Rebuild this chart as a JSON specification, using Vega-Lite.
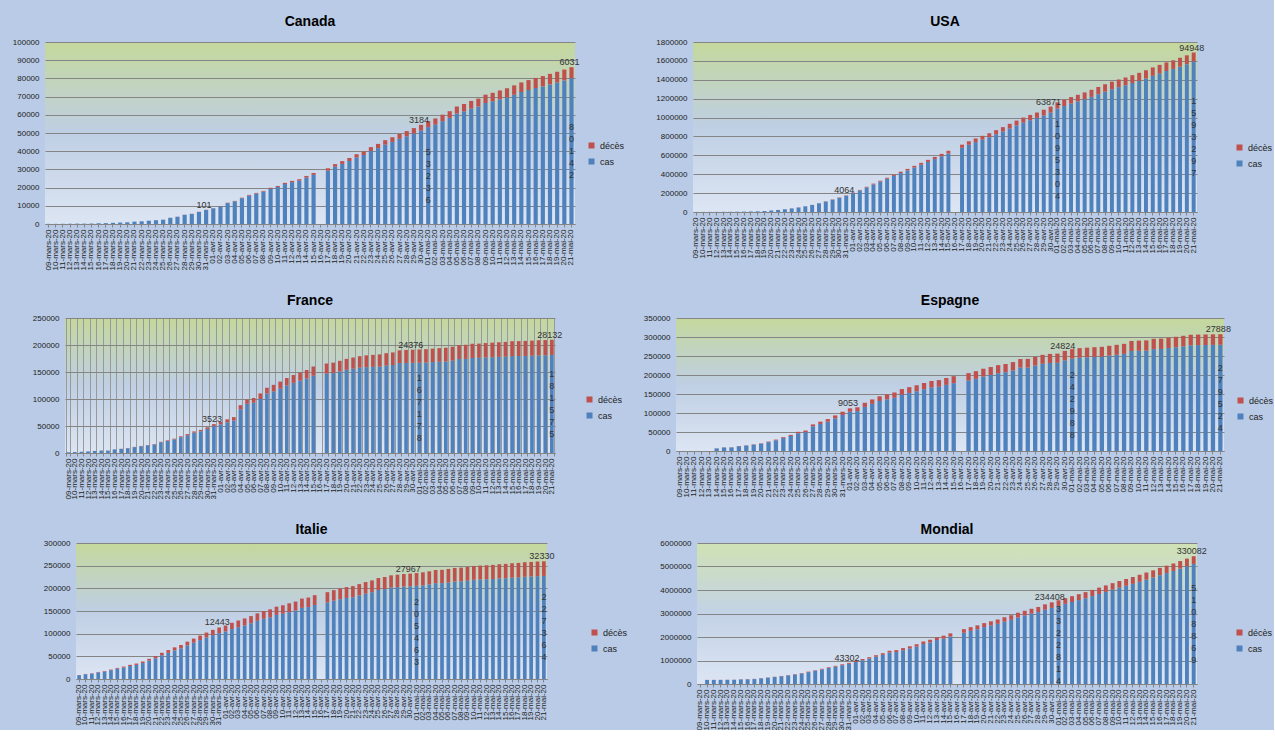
{
"$schema": "https://vega.github.io/schema/vega-lite/v6.json",
"background": "#b9cbe6",
"padding": {"left": 0, "top": 15, "right": 0, "bottom": 0},
"config": {
  "font": "Liberation Sans",
  "view": {"stroke": null},
  "title": {"fontSize": 14, "fontWeight": "bold", "color": "#000000", "anchor": "middle", "font": "Liberation Sans"},
  "axisY": {"domain": false, "ticks": false, "labelPadding": 6, "labelFontSize": 8, "labelColor": "#222222", "gridColor": "#858585", "gridOpacity": 1, "format": "d", "title": null},
  "axisX": {"labelAngle": -90, "labelFontSize": 8, "labelColor": "#222222", "domainColor": "#858585", "ticks": true, "tickColor": "#858585", "tickSize": 3, "labelPadding": 2, "labelOverlap": false, "labelFlush": false, "grid": false, "title": null},
  "legend": {"symbolType": "square", "symbolSize": 36, "symbolStrokeWidth": 0, "labelFontSize": 9, "labelColor": "#222222", "rowPadding": 6, "padding": 0, "labelOffset": 4},
  "bar": {"fillOpacity": 1}
},
"datasets": {
"Canada": [{"d":"09-mars-20","cas":77,"décès":1},{"d":"10-mars-20","cas":79,"décès":1},{"d":"11-mars-20","cas":108,"décès":1},{"d":"12-mars-20","cas":117,"décès":1},{"d":"13-mars-20","cas":193,"décès":1},{"d":"14-mars-20","cas":198,"décès":1},{"d":"15-mars-20","cas":252,"décès":1},{"d":"16-mars-20","cas":415,"décès":4},{"d":"17-mars-20","cas":478,"décès":5},{"d":"18-mars-20","cas":657,"décès":8},{"d":"19-mars-20","cas":800,"décès":9},{"d":"20-mars-20","cas":943,"décès":12},{"d":"21-mars-20","cas":1277,"décès":19},{"d":"22-mars-20","cas":1469,"décès":21},{"d":"23-mars-20","cas":1780,"décès":25},{"d":"24-mars-20","cas":2088,"décès":26},{"d":"25-mars-20","cas":2370,"décès":30},{"d":"26-mars-20","cas":3400,"décès":38},{"d":"27-mars-20","cas":3960,"décès":54},{"d":"28-mars-20","cas":5050,"décès":61},{"d":"29-mars-20","cas":5550,"décès":64},{"d":"30-mars-20","cas":6620,"décès":80},{"d":"31-mars-20","cas":7700,"décès":101},{"d":"01-avr-20","cas":8600,"décès":109},{"d":"02-avr-20","cas":9660,"décès":139},{"d":"03-avr-20","cas":11500,"décès":179},{"d":"04-avr-20","cas":12480,"décès":218},{"d":"05-avr-20","cas":14180,"décès":259},{"d":"06-avr-20","cas":15660,"décès":339},{"d":"07-avr-20","cas":16720,"décès":375},{"d":"08-avr-20","cas":17790,"décès":407},{"d":"09-avr-20","cas":19400,"décès":503},{"d":"10-avr-20","cas":20340,"décès":557},{"d":"11-avr-20","cas":21950,"décès":654},{"d":"12-avr-20","cas":22990,"décès":714},{"d":"13-avr-20","cas":23820,"décès":781},{"d":"14-avr-20","cas":25500,"décès":901},{"d":"15-avr-20","cas":27000,"décès":1010},{"d":"16-avr-20","cas":null,"décès":null},{"d":"17-avr-20","cas":29300,"décès":1310},{"d":"18-avr-20","cas":31500,"décès":1399},{"d":"19-avr-20","cas":33000,"décès":1563},{"d":"20-avr-20","cas":34600,"décès":1661},{"d":"21-avr-20","cas":36500,"décès":1834},{"d":"22-avr-20","cas":37900,"décès":1974},{"d":"23-avr-20","cas":40100,"décès":2147},{"d":"24-avr-20","cas":41700,"décès":2302},{"d":"25-avr-20","cas":43600,"décès":2465},{"d":"26-avr-20","cas":45100,"décès":2560},{"d":"27-avr-20","cas":46800,"décès":2707},{"d":"28-avr-20","cas":48200,"décès":2859},{"d":"29-avr-20","cas":49700,"décès":2996},{"d":"30-avr-20","cas":51300,"décès":3184},{"d":"01-mai-20","cas":53236,"décès":3310},{"d":"02-mai-20","cas":54600,"décès":3391},{"d":"03-mai-20","cas":56500,"décès":3566},{"d":"04-mai-20","cas":58300,"décès":3682},{"d":"05-mai-20","cas":60700,"décès":3854},{"d":"06-mai-20","cas":61900,"décès":4043},{"d":"07-mai-20","cas":63400,"décès":4232},{"d":"08-mai-20","cas":64500,"décès":4409},{"d":"09-mai-20","cas":66500,"décès":4569},{"d":"10-mai-20","cas":67400,"décès":4691},{"d":"11-mai-20","cas":68500,"décès":4871},{"d":"12-mai-20","cas":69600,"décès":4992},{"d":"13-mai-20","cas":71000,"décès":5169},{"d":"14-mai-20","cas":72500,"décès":5303},{"d":"15-mai-20","cas":73600,"décès":5472},{"d":"16-mai-20","cas":74700,"décès":5562},{"d":"17-mai-20","cas":75600,"décès":5679},{"d":"18-mai-20","cas":76700,"décès":5800},{"d":"19-mai-20","cas":77800,"décès":5902},{"d":"20-mai-20","cas":78900,"décès":5960},{"d":"21-mai-20","cas":80142,"décès":6031}],
"USA": [{"d":"09-mars-20","cas":600,"décès":22},{"d":"10-mars-20","cas":780,"décès":28},{"d":"11-mars-20","cas":1100,"décès":36},{"d":"12-mars-20","cas":1450,"décès":40},{"d":"13-mars-20","cas":1900,"décès":47},{"d":"14-mars-20","cas":2400,"décès":54},{"d":"15-mars-20","cas":3000,"décès":63},{"d":"16-mars-20","cas":4000,"décès":85},{"d":"17-mars-20","cas":5500,"décès":108},{"d":"18-mars-20","cas":7000,"décès":118},{"d":"19-mars-20","cas":10500,"décès":200},{"d":"20-mars-20","cas":16000,"décès":244},{"d":"21-mars-20","cas":22000,"décès":307},{"d":"22-mars-20","cas":29000,"décès":427},{"d":"23-mars-20","cas":38000,"décès":552},{"d":"24-mars-20","cas":48000,"décès":706},{"d":"25-mars-20","cas":60000,"décès":942},{"d":"26-mars-20","cas":74000,"décès":1209},{"d":"27-mars-20","cas":92000,"décès":1581},{"d":"28-mars-20","cas":111000,"décès":2026},{"d":"29-mars-20","cas":131000,"décès":2467},{"d":"30-mars-20","cas":151000,"décès":2978},{"d":"31-mars-20","cas":172000,"décès":4064},{"d":"01-avr-20","cas":200000,"décès":5110},{"d":"02-avr-20","cas":228000,"décès":6095},{"d":"03-avr-20","cas":260000,"décès":7101},{"d":"04-avr-20","cas":292000,"décès":8437},{"d":"05-avr-20","cas":322000,"décès":9620},{"d":"06-avr-20","cas":352000,"décès":10783},{"d":"07-avr-20","cas":382000,"décès":12722},{"d":"08-avr-20","cas":412000,"décès":14695},{"d":"09-avr-20","cas":440000,"décès":16478},{"d":"10-avr-20","cas":470000,"décès":18586},{"d":"11-avr-20","cas":500000,"décès":20463},{"d":"12-avr-20","cas":530000,"décès":22020},{"d":"13-avr-20","cas":560000,"décès":23529},{"d":"14-avr-20","cas":590000,"décès":25831},{"d":"15-avr-20","cas":620000,"décès":28325},{"d":"16-avr-20","cas":null,"décès":null},{"d":"17-avr-20","cas":680000,"décès":32916},{"d":"18-avr-20","cas":712000,"décès":36773},{"d":"19-avr-20","cas":740000,"décès":38664},{"d":"20-avr-20","cas":766000,"décès":40661},{"d":"21-avr-20","cas":792000,"décès":42094},{"d":"22-avr-20","cas":822000,"décès":44845},{"d":"23-avr-20","cas":852000,"décès":46622},{"d":"24-avr-20","cas":884000,"décès":49954},{"d":"25-avr-20","cas":916000,"décès":51949},{"d":"26-avr-20","cas":946000,"décès":53755},{"d":"27-avr-20","cas":972000,"décès":55400},{"d":"28-avr-20","cas":996000,"décès":57300},{"d":"29-avr-20","cas":1022000,"décès":60500},{"d":"30-avr-20","cas":1052000,"décès":63871},{"d":"01-mai-20","cas":1095304,"décès":65800},{"d":"02-mai-20","cas":1122000,"décès":67500},{"d":"03-mai-20","cas":1148000,"décès":68900},{"d":"04-mai-20","cas":1171000,"décès":70100},{"d":"05-mai-20","cas":1194000,"décès":72400},{"d":"06-mai-20","cas":1219000,"décès":74900},{"d":"07-mai-20","cas":1247000,"décès":77000},{"d":"08-mai-20","cas":1274000,"décès":78700},{"d":"09-mai-20","cas":1300000,"décès":80200},{"d":"10-mai-20","cas":1322000,"décès":81200},{"d":"11-mai-20","cas":1342000,"décès":82200},{"d":"12-mai-20","cas":1365000,"décès":83900},{"d":"13-mai-20","cas":1388000,"décès":85500},{"d":"14-mai-20","cas":1414000,"décès":87200},{"d":"15-mai-20","cas":1442000,"décès":88700},{"d":"16-mai-20","cas":1468000,"décès":89900},{"d":"17-mai-20","cas":1493000,"décès":90700},{"d":"18-mai-20","cas":1515000,"décès":91600},{"d":"19-mai-20","cas":1540000,"décès":93100},{"d":"20-mai-20","cas":1565000,"décès":94100},{"d":"21-mai-20","cas":1593297,"décès":94948}],
"France": [{"d":"09-mars-20","cas":1400,"décès":30},{"d":"10-mars-20","cas":1800,"décès":33},{"d":"11-mars-20","cas":2300,"décès":48},{"d":"12-mars-20","cas":2900,"décès":61},{"d":"13-mars-20","cas":3700,"décès":79},{"d":"14-mars-20","cas":4500,"décès":91},{"d":"15-mars-20","cas":4500,"décès":91},{"d":"16-mars-20","cas":6600,"décès":148},{"d":"17-mars-20","cas":7700,"décès":148},{"d":"18-mars-20","cas":9000,"décès":244},{"d":"19-mars-20","cas":10900,"décès":372},{"d":"20-mars-20","cas":12600,"décès":450},{"d":"21-mars-20","cas":14300,"décès":562},{"d":"22-mars-20","cas":16000,"décès":674},{"d":"23-mars-20","cas":19900,"décès":860},{"d":"24-mars-20","cas":22300,"décès":1100},{"d":"25-mars-20","cas":25200,"décès":1331},{"d":"26-mars-20","cas":29200,"décès":1696},{"d":"27-mars-20","cas":33000,"décès":1995},{"d":"28-mars-20","cas":37600,"décès":2314},{"d":"29-mars-20","cas":40200,"décès":2606},{"d":"30-mars-20","cas":44600,"décès":3024},{"d":"31-mars-20","cas":50000,"décès":3523},{"d":"01-avr-20","cas":53000,"décès":4403},{"d":"02-avr-20","cas":57000,"décès":5387},{"d":"03-avr-20","cas":60000,"décès":6507},{"d":"04-avr-20","cas":81000,"décès":7560},{"d":"05-avr-20","cas":91000,"décès":8078},{"d":"06-avr-20","cas":93000,"décès":8911},{"d":"07-avr-20","cas":100000,"décès":10328},{"d":"08-avr-20","cas":110000,"décès":10869},{"d":"09-avr-20","cas":114000,"décès":12210},{"d":"10-avr-20","cas":119000,"décès":13197},{"d":"11-avr-20","cas":125000,"décès":13832},{"d":"12-avr-20","cas":130000,"décès":14393},{"d":"13-avr-20","cas":134000,"décès":14967},{"d":"14-avr-20","cas":138000,"décès":15729},{"d":"15-avr-20","cas":143000,"décès":17167},{"d":"16-avr-20","cas":null,"décès":null},{"d":"17-avr-20","cas":147000,"décès":18681},{"d":"18-avr-20","cas":148000,"décès":19323},{"d":"19-avr-20","cas":151000,"décès":19718},{"d":"20-avr-20","cas":154000,"décès":20265},{"d":"21-avr-20","cas":156000,"décès":20796},{"d":"22-avr-20","cas":158000,"décès":21340},{"d":"23-avr-20","cas":159000,"décès":21856},{"d":"24-avr-20","cas":159500,"décès":22245},{"d":"25-avr-20","cas":160000,"décès":22614},{"d":"26-avr-20","cas":162000,"décès":22856},{"d":"27-avr-20","cas":163000,"décès":23293},{"d":"28-avr-20","cas":166500,"décès":23660},{"d":"29-avr-20","cas":166800,"décès":24087},{"d":"30-avr-20","cas":167000,"décès":24376},{"d":"01-mai-20","cas":167178,"décès":24594},{"d":"02-mai-20","cas":167500,"décès":24760},{"d":"03-mai-20","cas":168400,"décès":24895},{"d":"04-mai-20","cas":169000,"décès":25201},{"d":"05-mai-20","cas":169500,"décès":25531},{"d":"06-mai-20","cas":171000,"décès":25809},{"d":"07-mai-20","cas":174000,"décès":25987},{"d":"08-mai-20","cas":174200,"décès":26230},{"d":"09-mai-20","cas":176000,"décès":26310},{"d":"10-mai-20","cas":176200,"décès":26380},{"d":"11-mai-20","cas":177000,"décès":26643},{"d":"12-mai-20","cas":177400,"décès":26991},{"d":"13-mai-20","cas":178000,"décès":27074},{"d":"14-mai-20","cas":178300,"décès":27425},{"d":"15-mai-20","cas":179500,"décès":27529},{"d":"16-mai-20","cas":179600,"décès":27625},{"d":"17-mai-20","cas":179800,"décès":27778},{"d":"18-mai-20","cas":180100,"décès":28022},{"d":"19-mai-20","cas":180800,"décès":28025},{"d":"20-mai-20","cas":181000,"décès":28111},{"d":"21-mai-20","cas":181575,"décès":28132}],
"Espagne": [{"d":"09-mars-20","cas":null,"décès":null},{"d":"10-mars-20","cas":null,"décès":null},{"d":"11-mars-20","cas":null,"décès":null},{"d":"12-mars-20","cas":null,"décès":null},{"d":"13-mars-20","cas":null,"décès":null},{"d":"14-mars-20","cas":6900,"décès":195},{"d":"15-mars-20","cas":9400,"décès":289},{"d":"16-mars-20","cas":9500,"décès":342},{"d":"17-mars-20","cas":12700,"décès":533},{"d":"18-mars-20","cas":14400,"décès":623},{"d":"19-mars-20","cas":16900,"décès":830},{"d":"20-mars-20","cas":19300,"décès":1043},{"d":"21-mars-20","cas":23400,"décès":1375},{"d":"22-mars-20","cas":28200,"décès":1772},{"d":"23-mars-20","cas":34000,"décès":2311},{"d":"24-mars-20","cas":39600,"décès":2808},{"d":"25-mars-20","cas":46800,"décès":3647},{"d":"26-mars-20","cas":49600,"décès":4365},{"d":"27-mars-20","cas":64900,"décès":5138},{"d":"28-mars-20","cas":71200,"décès":5982},{"d":"29-mars-20","cas":77200,"décès":6803},{"d":"30-mars-20","cas":86000,"décès":7716},{"d":"31-mars-20","cas":94900,"décès":8464},{"d":"01-avr-20","cas":103200,"décès":9053},{"d":"02-avr-20","cas":105000,"décès":10003},{"d":"03-avr-20","cas":116000,"décès":10935},{"d":"04-avr-20","cas":124000,"décès":11744},{"d":"05-avr-20","cas":131600,"décès":12418},{"d":"06-avr-20","cas":136000,"décès":13055},{"d":"07-avr-20","cas":140200,"décès":13798},{"d":"08-avr-20","cas":148400,"décès":14555},{"d":"09-avr-20","cas":152800,"décès":15238},{"d":"10-avr-20","cas":157200,"décès":15843},{"d":"11-avr-20","cas":162600,"décès":16353},{"d":"12-avr-20","cas":167000,"décès":16972},{"d":"13-avr-20","cas":169100,"décès":17489},{"d":"14-avr-20","cas":174000,"décès":18056},{"d":"15-avr-20","cas":178400,"décès":18579},{"d":"16-avr-20","cas":null,"décès":null},{"d":"17-avr-20","cas":185500,"décès":19478},{"d":"18-avr-20","cas":190000,"décès":20043},{"d":"19-avr-20","cas":196100,"décès":20453},{"d":"20-avr-20","cas":200100,"décès":20852},{"d":"21-avr-20","cas":204700,"décès":21282},{"d":"22-avr-20","cas":207300,"décès":21717},{"d":"23-avr-20","cas":211800,"décès":22157},{"d":"24-avr-20","cas":219500,"décès":22524},{"d":"25-avr-20","cas":219600,"décès":22902},{"d":"26-avr-20","cas":224800,"décès":23190},{"d":"27-avr-20","cas":229500,"décès":23521},{"d":"28-avr-20","cas":231700,"décès":23822},{"d":"29-avr-20","cas":232000,"décès":24275},{"d":"30-avr-20","cas":238700,"décès":24824},{"d":"01-mai-20","cas":242988,"décès":25100},{"d":"02-mai-20","cas":245500,"décès":25264},{"d":"03-mai-20","cas":246500,"décès":25428},{"d":"04-mai-20","cas":247500,"décès":25613},{"d":"05-mai-20","cas":248300,"décès":25857},{"d":"06-mai-20","cas":250800,"décès":26070},{"d":"07-mai-20","cas":253100,"décès":26299},{"d":"08-mai-20","cas":255500,"décès":26478},{"d":"09-mai-20","cas":263000,"décès":26621},{"d":"10-mai-20","cas":263800,"décès":26744},{"d":"11-mai-20","cas":264200,"décès":26920},{"d":"12-mai-20","cas":268100,"décès":27104},{"d":"13-mai-20","cas":268500,"décès":27321},{"d":"14-mai-20","cas":271000,"décès":27459},{"d":"15-mai-20","cas":273000,"décès":27563},{"d":"16-mai-20","cas":275500,"décès":27650},{"d":"17-mai-20","cas":278200,"décès":27709},{"d":"18-mai-20","cas":278600,"décès":27778},{"d":"19-mai-20","cas":278900,"décès":27840},{"d":"20-mai-20","cas":279200,"décès":27870},{"d":"21-mai-20","cas":279524,"décès":27888}],
"Italie": [{"d":"09-mars-20","cas":8400,"décès":463},{"d":"10-mars-20","cas":10500,"décès":631},{"d":"11-mars-20","cas":11800,"décès":827},{"d":"12-mars-20","cas":14700,"décès":827},{"d":"13-mars-20","cas":16500,"décès":1266},{"d":"14-mars-20","cas":19400,"décès":1441},{"d":"15-mars-20","cas":22700,"décès":1809},{"d":"16-mars-20","cas":25300,"décès":2158},{"d":"17-mars-20","cas":28700,"décès":2503},{"d":"18-mars-20","cas":31100,"décès":2978},{"d":"19-mars-20","cas":35200,"décès":3405},{"d":"20-mars-20","cas":40500,"décès":4032},{"d":"21-mars-20","cas":45700,"décès":4825},{"d":"22-mars-20","cas":52400,"décès":5476},{"d":"23-mars-20","cas":57700,"décès":6077},{"d":"24-mars-20","cas":63000,"décès":6820},{"d":"25-mars-20","cas":67500,"décès":7503},{"d":"26-mars-20","cas":74200,"décès":8165},{"d":"27-mars-20","cas":80000,"décès":9134},{"d":"28-mars-20","cas":85800,"décès":10023},{"d":"29-mars-20","cas":91600,"décès":10779},{"d":"30-mars-20","cas":96800,"décès":11591},{"d":"31-mars-20","cas":101200,"décès":12443},{"d":"01-avr-20","cas":104800,"décès":13155},{"d":"02-avr-20","cas":110100,"décès":13915},{"d":"03-avr-20","cas":114300,"décès":14681},{"d":"04-avr-20","cas":118200,"décès":15362},{"d":"05-avr-20","cas":122900,"décès":15887},{"d":"06-avr-20","cas":128300,"décès":16523},{"d":"07-avr-20","cas":132900,"décès":17127},{"d":"08-avr-20","cas":136000,"décès":17669},{"d":"09-avr-20","cas":141300,"décès":18279},{"d":"10-avr-20","cas":143800,"décès":18849},{"d":"11-avr-20","cas":147500,"décès":19468},{"d":"12-avr-20","cas":150900,"décès":19899},{"d":"13-avr-20","cas":156900,"décès":20465},{"d":"14-avr-20","cas":158600,"décès":21067},{"d":"15-avr-20","cas":163300,"décès":21645},{"d":"16-avr-20","cas":null,"décès":null},{"d":"17-avr-20","cas":168800,"décès":22745},{"d":"18-avr-20","cas":172800,"décès":23227},{"d":"19-avr-20","cas":176000,"décès":23660},{"d":"20-avr-20","cas":178600,"décès":24114},{"d":"21-avr-20","cas":180300,"décès":24648},{"d":"22-avr-20","cas":184300,"décès":25085},{"d":"23-avr-20","cas":188300,"décès":25549},{"d":"24-avr-20","cas":191500,"décès":25969},{"d":"25-avr-20","cas":196300,"décès":26384},{"d":"26-avr-20","cas":198400,"décès":26644},{"d":"27-avr-20","cas":201700,"décès":26977},{"d":"28-avr-20","cas":202700,"décès":27359},{"d":"29-avr-20","cas":203900,"décès":27682},{"d":"30-avr-20","cas":204500,"décès":27967},{"d":"01-mai-20","cas":205463,"décès":28236},{"d":"02-mai-20","cas":206600,"décès":28710},{"d":"03-mai-20","cas":208700,"décès":28884},{"d":"04-mai-20","cas":211400,"décès":29079},{"d":"05-mai-20","cas":211500,"décès":29315},{"d":"06-mai-20","cas":213100,"décès":29684},{"d":"07-mai-20","cas":215000,"décès":29958},{"d":"08-mai-20","cas":215500,"décès":30201},{"d":"09-mai-20","cas":216800,"décès":30395},{"d":"10-mai-20","cas":218800,"décès":30560},{"d":"11-mai-20","cas":219500,"décès":30739},{"d":"12-mai-20","cas":220000,"décès":30911},{"d":"13-mai-20","cas":220600,"décès":31106},{"d":"14-mai-20","cas":221800,"décès":31368},{"d":"15-mai-20","cas":222300,"décès":31610},{"d":"16-mai-20","cas":223600,"décès":31763},{"d":"17-mai-20","cas":224200,"décès":31908},{"d":"18-mai-20","cas":225600,"décès":32007},{"d":"19-mai-20","cas":226100,"décès":32169},{"d":"20-mai-20","cas":226900,"décès":32250},{"d":"21-mai-20","cas":227364,"décès":32330}],
"Mondial": [{"d":"09-mars-20","cas":null,"décès":null},{"d":"10-mars-20","cas":170000,"décès":4300},{"d":"11-mars-20","cas":172000,"décès":4600},{"d":"12-mars-20","cas":174000,"décès":4700},{"d":"13-mars-20","cas":176000,"décès":5400},{"d":"14-mars-20","cas":178000,"décès":5800},{"d":"15-mars-20","cas":196000,"décès":6500},{"d":"16-mars-20","cas":200000,"décès":7200},{"d":"17-mars-20","cas":210000,"décès":7900},{"d":"18-mars-20","cas":240000,"décès":8800},{"d":"19-mars-20","cas":268000,"décès":9900},{"d":"20-mars-20","cas":296000,"décès":11400},{"d":"21-mars-20","cas":330000,"décès":13100},{"d":"22-mars-20","cas":364000,"décès":14600},{"d":"23-mars-20","cas":405000,"décès":16500},{"d":"24-mars-20","cas":448000,"décès":18600},{"d":"25-mars-20","cas":505000,"décès":21200},{"d":"26-mars-20","cas":560000,"décès":23900},{"d":"27-mars-20","cas":620000,"décès":27200},{"d":"28-mars-20","cas":680000,"décès":30700},{"d":"29-mars-20","cas":740000,"décès":33900},{"d":"30-mars-20","cas":800000,"décès":37600},{"d":"31-mars-20","cas":857000,"décès":43302},{"d":"01-avr-20","cas":940000,"décès":47200},{"d":"02-avr-20","cas":1010000,"décès":53200},{"d":"03-avr-20","cas":1080000,"décès":58800},{"d":"04-avr-20","cas":1160000,"décès":64600},{"d":"05-avr-20","cas":1240000,"décès":69400},{"d":"06-avr-20","cas":1340000,"décès":74600},{"d":"07-avr-20","cas":1360000,"décès":81900},{"d":"08-avr-20","cas":1440000,"décès":88300},{"d":"09-avr-20","cas":1510000,"décès":95500},{"d":"10-avr-20","cas":1590000,"décès":102500},{"d":"11-avr-20","cas":1700000,"décès":108500},{"d":"12-avr-20","cas":1770000,"décès":114100},{"d":"13-avr-20","cas":1870000,"décès":119500},{"d":"14-avr-20","cas":1930000,"décès":125900},{"d":"15-avr-20","cas":2020000,"décès":134100},{"d":"16-avr-20","cas":null,"décès":null},{"d":"17-avr-20","cas":2180000,"décès":153800},{"d":"18-avr-20","cas":2260000,"décès":159500},{"d":"19-avr-20","cas":2330000,"décès":165000},{"d":"20-avr-20","cas":2420000,"décès":170400},{"d":"21-avr-20","cas":2490000,"décès":177600},{"d":"22-avr-20","cas":2560000,"décès":184000},{"d":"23-avr-20","cas":2650000,"décès":190600},{"d":"24-avr-20","cas":2730000,"décès":197200},{"d":"25-avr-20","cas":2830000,"décès":202800},{"d":"26-avr-20","cas":2910000,"décès":206500},{"d":"27-avr-20","cas":2990000,"décès":211200},{"d":"28-avr-20","cas":3060000,"décès":217800},{"d":"29-avr-20","cas":3160000,"décès":228000},{"d":"30-avr-20","cas":3240000,"décès":234408},{"d":"01-mai-20","cas":3322814,"décès":239600},{"d":"02-mai-20","cas":3410000,"décès":244700},{"d":"03-mai-20","cas":3490000,"décès":248400},{"d":"04-mai-20","cas":3570000,"décès":252400},{"d":"05-mai-20","cas":3650000,"décès":258300},{"d":"06-mai-20","cas":3740000,"décès":264800},{"d":"07-mai-20","cas":3830000,"décès":270700},{"d":"08-mai-20","cas":3920000,"décès":276000},{"d":"09-mai-20","cas":4010000,"décès":280200},{"d":"10-mai-20","cas":4100000,"décès":283800},{"d":"11-mai-20","cas":4180000,"décès":287300},{"d":"12-mai-20","cas":4260000,"décès":292600},{"d":"13-mai-20","cas":4350000,"décès":297600},{"d":"14-mai-20","cas":4440000,"décès":303100},{"d":"15-mai-20","cas":4530000,"décès":308100},{"d":"16-mai-20","cas":4630000,"décès":311600},{"d":"17-mai-20","cas":4720000,"décès":315000},{"d":"18-mai-20","cas":4810000,"décès":318500},{"d":"19-mai-20","cas":4910000,"décès":322800},{"d":"20-mai-20","cas":5010000,"décès":326500},{"d":"21-mai-20","cas":5108869,"décès":330082}]
},
"vconcat": [
{"hconcat": [
 {"width": 12, "height": 10, "data": {"values": []}, "mark": "point"},
 {"title": {"text": "Canada", "offset": 9}, "width": 530, "height": 182, "data": {"name": "Canada"},
  "view": {"stroke": null, "fill": {"gradient": "linear", "x1": 0, "y1": 0, "x2": 0, "y2": 1, "stops": [{"offset": 0, "color": "#c4d89c"}, {"offset": 0.5, "color": "#bfcfe4"}, {"offset": 1, "color": "#dce5f3"}]}},
  "transform": [{"fold": ["cas", "décès"], "as": ["serie", "valeur"]}],
  "encoding": {"x": {"field": "d", "type": "nominal", "sort": null, "title": null, "scale": {"domain": ["09-mars-20","10-mars-20","11-mars-20","12-mars-20","13-mars-20","14-mars-20","15-mars-20","16-mars-20","17-mars-20","18-mars-20","19-mars-20","20-mars-20","21-mars-20","22-mars-20","23-mars-20","24-mars-20","25-mars-20","26-mars-20","27-mars-20","28-mars-20","29-mars-20","30-mars-20","31-mars-20","01-avr-20","02-avr-20","03-avr-20","04-avr-20","05-avr-20","06-avr-20","07-avr-20","08-avr-20","09-avr-20","10-avr-20","11-avr-20","12-avr-20","13-avr-20","14-avr-20","15-avr-20","16-avr-20","17-avr-20","18-avr-20","19-avr-20","20-avr-20","21-avr-20","22-avr-20","23-avr-20","24-avr-20","25-avr-20","26-avr-20","27-avr-20","28-avr-20","29-avr-20","30-avr-20","01-mai-20","02-mai-20","03-mai-20","04-mai-20","05-mai-20","06-mai-20","07-mai-20","08-mai-20","09-mai-20","10-mai-20","11-mai-20","12-mai-20","13-mai-20","14-mai-20","15-mai-20","16-mai-20","17-mai-20","18-mai-20","19-mai-20","20-mai-20","21-mai-20"], "paddingInner": 0.42, "paddingOuter": 0.2}}},
  "layer": [
   {"mark": {"type": "bar"}, "encoding": {
     "y": {"field": "valeur", "type": "quantitative", "stack": "zero", "title": null, "scale": {"domain": [0, 100000], "nice": false}, "axis": {"tickCount": 10, "grid": true}},
     "color": {"field": "serie", "type": "nominal", "title": null, "scale": {"domain": ["décès", "cas"], "range": ["#c0504d", "#4f81bd"]}, "legend": {"orient": "none", "legendX": 542, "legendY": 99}},
     "order": {"field": "serie", "sort": "ascending"}}},
   {"transform": [{"stack": "valeur", "groupby": ["d"], "sort": [{"field": "serie", "order": "ascending"}], "as": ["y0", "y1"]}, {"filter": "datum.serie === 'décès' && indexof(['31-mars-20','30-avr-20','21-mai-20'], datum.d) >= 0"}],
    "mark": {"type": "text", "dy": -5, "dx": -2, "fontSize": 9, "color": "#333333"},
    "encoding": {"y": {"field": "y1", "type": "quantitative", "scale": {"domain": [0, 100000], "nice": false}, "axis": null}, "text": {"field": "valeur", "type": "quantitative", "format": "d"}}},
   {"transform": [{"filter": "datum.serie === 'cas' && indexof(['01-mai-20','21-mai-20'], datum.d) >= 0"}],
    "mark": {"type": "text", "baseline": "middle", "dy": -24, "fontSize": 9, "lineHeight": 12, "color": "#333333", "text": {"expr": "split(format(datum.valeur, 'd'), '')"}},
    "encoding": {"y": {"field": "valeur", "type": "quantitative", "scale": {"domain": [0, 200000], "nice": false}, "axis": null}}}
  ],
  "resolve": {"scale": {"y": "independent"}}},
 {"title": {"text": "USA", "offset": 9}, "width": 504, "height": 170, "data": {"name": "USA"},
  "view": {"stroke": null, "fill": {"gradient": "linear", "x1": 0, "y1": 0, "x2": 0, "y2": 1, "stops": [{"offset": 0, "color": "#c4d89c"}, {"offset": 0.5, "color": "#bfcfe4"}, {"offset": 1, "color": "#dce5f3"}]}},
  "transform": [{"fold": ["cas", "décès"], "as": ["serie", "valeur"]}],
  "encoding": {"x": {"field": "d", "type": "nominal", "sort": null, "title": null, "scale": {"domain": ["09-mars-20","10-mars-20","11-mars-20","12-mars-20","13-mars-20","14-mars-20","15-mars-20","16-mars-20","17-mars-20","18-mars-20","19-mars-20","20-mars-20","21-mars-20","22-mars-20","23-mars-20","24-mars-20","25-mars-20","26-mars-20","27-mars-20","28-mars-20","29-mars-20","30-mars-20","31-mars-20","01-avr-20","02-avr-20","03-avr-20","04-avr-20","05-avr-20","06-avr-20","07-avr-20","08-avr-20","09-avr-20","10-avr-20","11-avr-20","12-avr-20","13-avr-20","14-avr-20","15-avr-20","16-avr-20","17-avr-20","18-avr-20","19-avr-20","20-avr-20","21-avr-20","22-avr-20","23-avr-20","24-avr-20","25-avr-20","26-avr-20","27-avr-20","28-avr-20","29-avr-20","30-avr-20","01-mai-20","02-mai-20","03-mai-20","04-mai-20","05-mai-20","06-mai-20","07-mai-20","08-mai-20","09-mai-20","10-mai-20","11-mai-20","12-mai-20","13-mai-20","14-mai-20","15-mai-20","16-mai-20","17-mai-20","18-mai-20","19-mai-20","20-mai-20","21-mai-20"], "paddingInner": 0.42, "paddingOuter": 0.2}}},
  "layer": [
   {"mark": {"type": "bar"}, "encoding": {
     "y": {"field": "valeur", "type": "quantitative", "stack": "zero", "title": null, "scale": {"domain": [0, 1800000], "nice": false}, "axis": {"tickCount": 9, "grid": true, "minExtent": 68}},
     "color": {"field": "serie", "type": "nominal", "title": null, "scale": {"domain": ["décès", "cas"], "range": ["#c0504d", "#4f81bd"]}, "legend": {"orient": "none", "legendX": 542, "legendY": 101}},
     "order": {"field": "serie", "sort": "ascending"}}},
   {"transform": [{"stack": "valeur", "groupby": ["d"], "sort": [{"field": "serie", "order": "ascending"}], "as": ["y0", "y1"]}, {"filter": "datum.serie === 'décès' && indexof(['31-mars-20','30-avr-20','21-mai-20'], datum.d) >= 0"}],
    "mark": {"type": "text", "dy": -5, "dx": -2, "fontSize": 9, "color": "#333333"},
    "encoding": {"y": {"field": "y1", "type": "quantitative", "scale": {"domain": [0, 1800000], "nice": false}, "axis": null}, "text": {"field": "valeur", "type": "quantitative", "format": "d"}}},
   {"transform": [{"filter": "datum.serie === 'cas' && indexof(['01-mai-20','21-mai-20'], datum.d) >= 0"}],
    "mark": {"type": "text", "baseline": "middle", "dy": -36, "fontSize": 9, "lineHeight": 12, "color": "#333333", "text": {"expr": "split(format(datum.valeur, 'd'), '')"}},
    "encoding": {"y": {"field": "valeur", "type": "quantitative", "scale": {"domain": [0, 3600000], "nice": false}, "axis": null}}}
  ],
  "resolve": {"scale": {"y": "independent"}}}
 ], "spacing": 0, "resolve": {"scale": {"x": "independent", "y": "independent", "color": "independent"}, "legend": {"color": "independent"}}},
{"hconcat": [
 {"width": 32, "height": 10, "data": {"values": []}, "mark": "point"},
 {"title": {"text": "France", "offset": 6}, "width": 490, "height": 135, "data": {"name": "France"},
  "view": {"stroke": null, "fill": {"gradient": "linear", "x1": 0, "y1": 0, "x2": 0, "y2": 1, "stops": [{"offset": 0, "color": "#c4d89c"}, {"offset": 0.5, "color": "#bfcfe4"}, {"offset": 1, "color": "#dce5f3"}]}},
  "transform": [{"fold": ["cas", "décès"], "as": ["serie", "valeur"]}],
  "encoding": {"x": {"field": "d", "type": "nominal", "sort": null, "title": null, "axis": {"grid": true, "tickBand": "extent", "gridColor": "#999999"}, "scale": {"domain": ["09-mars-20","10-mars-20","11-mars-20","12-mars-20","13-mars-20","14-mars-20","15-mars-20","16-mars-20","17-mars-20","18-mars-20","19-mars-20","20-mars-20","21-mars-20","22-mars-20","23-mars-20","24-mars-20","25-mars-20","26-mars-20","27-mars-20","28-mars-20","29-mars-20","30-mars-20","31-mars-20","01-avr-20","02-avr-20","03-avr-20","04-avr-20","05-avr-20","06-avr-20","07-avr-20","08-avr-20","09-avr-20","10-avr-20","11-avr-20","12-avr-20","13-avr-20","14-avr-20","15-avr-20","16-avr-20","17-avr-20","18-avr-20","19-avr-20","20-avr-20","21-avr-20","22-avr-20","23-avr-20","24-avr-20","25-avr-20","26-avr-20","27-avr-20","28-avr-20","29-avr-20","30-avr-20","01-mai-20","02-mai-20","03-mai-20","04-mai-20","05-mai-20","06-mai-20","07-mai-20","08-mai-20","09-mai-20","10-mai-20","11-mai-20","12-mai-20","13-mai-20","14-mai-20","15-mai-20","16-mai-20","17-mai-20","18-mai-20","19-mai-20","20-mai-20","21-mai-20"], "paddingInner": 0.45, "paddingOuter": 0.2}}},
  "layer": [
   {"mark": {"type": "bar"}, "encoding": {
     "y": {"field": "valeur", "type": "quantitative", "stack": "zero", "title": null, "scale": {"domain": [0, 250000], "nice": false}, "axis": {"tickCount": 5, "grid": true}},
     "color": {"field": "serie", "type": "nominal", "title": null, "scale": {"domain": ["décès", "cas"], "range": ["#c0504d", "#4f81bd"]}, "legend": {"orient": "none", "legendX": 520, "legendY": 77}},
     "order": {"field": "serie", "sort": "ascending"}}},
   {"transform": [{"stack": "valeur", "groupby": ["d"], "sort": [{"field": "serie", "order": "ascending"}], "as": ["y0", "y1"]}, {"filter": "datum.serie === 'décès' && indexof(['31-mars-20','30-avr-20','21-mai-20'], datum.d) >= 0"}],
    "mark": {"type": "text", "dy": -5, "dx": -2, "fontSize": 9, "color": "#333333"},
    "encoding": {"y": {"field": "y1", "type": "quantitative", "scale": {"domain": [0, 250000], "nice": false}, "axis": null}, "text": {"field": "valeur", "type": "quantitative", "format": "d"}}},
   {"transform": [{"filter": "datum.serie === 'cas' && indexof(['01-mai-20','21-mai-20'], datum.d) >= 0"}],
    "mark": {"type": "text", "baseline": "middle", "dy": -30, "fontSize": 9, "lineHeight": 12, "color": "#333333", "text": {"expr": "split(format(datum.valeur, 'd'), '')"}},
    "encoding": {"y": {"field": "valeur", "type": "quantitative", "scale": {"domain": [0, 500000], "nice": false}, "axis": null}}}
  ],
  "resolve": {"scale": {"y": "independent"}}},
 {"title": {"text": "Espagne", "offset": 6}, "width": 548, "height": 133, "data": {"name": "Espagne"},
  "view": {"stroke": null, "fill": {"gradient": "linear", "x1": 0, "y1": 0, "x2": 0, "y2": 1, "stops": [{"offset": 0, "color": "#c4d89c"}, {"offset": 0.5, "color": "#bfcfe4"}, {"offset": 1, "color": "#dce5f3"}]}},
  "transform": [{"fold": ["cas", "décès"], "as": ["serie", "valeur"]}],
  "encoding": {"x": {"field": "d", "type": "nominal", "sort": null, "title": null, "scale": {"domain": ["09-mars-20","10-mars-20","11-mars-20","12-mars-20","13-mars-20","14-mars-20","15-mars-20","16-mars-20","17-mars-20","18-mars-20","19-mars-20","20-mars-20","21-mars-20","22-mars-20","23-mars-20","24-mars-20","25-mars-20","26-mars-20","27-mars-20","28-mars-20","29-mars-20","30-mars-20","31-mars-20","01-avr-20","02-avr-20","03-avr-20","04-avr-20","05-avr-20","06-avr-20","07-avr-20","08-avr-20","09-avr-20","10-avr-20","11-avr-20","12-avr-20","13-avr-20","14-avr-20","15-avr-20","16-avr-20","17-avr-20","18-avr-20","19-avr-20","20-avr-20","21-avr-20","22-avr-20","23-avr-20","24-avr-20","25-avr-20","26-avr-20","27-avr-20","28-avr-20","29-avr-20","30-avr-20","01-mai-20","02-mai-20","03-mai-20","04-mai-20","05-mai-20","06-mai-20","07-mai-20","08-mai-20","09-mai-20","10-mai-20","11-mai-20","12-mai-20","13-mai-20","14-mai-20","15-mai-20","16-mai-20","17-mai-20","18-mai-20","19-mai-20","20-mai-20","21-mai-20"], "paddingInner": 0.42, "paddingOuter": 0.2}}},
  "layer": [
   {"mark": {"type": "bar"}, "encoding": {
     "y": {"field": "valeur", "type": "quantitative", "stack": "zero", "title": null, "scale": {"domain": [0, 350000], "nice": false}, "axis": {"tickCount": 7, "grid": true, "minExtent": 53}},
     "color": {"field": "serie", "type": "nominal", "title": null, "scale": {"domain": ["décès", "cas"], "range": ["#c0504d", "#4f81bd"]}, "legend": {"orient": "none", "legendX": 560, "legendY": 78}},
     "order": {"field": "serie", "sort": "ascending"}}},
   {"transform": [{"stack": "valeur", "groupby": ["d"], "sort": [{"field": "serie", "order": "ascending"}], "as": ["y0", "y1"]}, {"filter": "datum.serie === 'décès' && indexof(['01-avr-20','30-avr-20','21-mai-20'], datum.d) >= 0"}],
    "mark": {"type": "text", "dy": -5, "dx": -2, "fontSize": 9, "color": "#333333"},
    "encoding": {"y": {"field": "y1", "type": "quantitative", "scale": {"domain": [0, 350000], "nice": false}, "axis": null}, "text": {"field": "valeur", "type": "quantitative", "format": "d"}}},
   {"transform": [{"filter": "datum.serie === 'cas' && indexof(['01-mai-20','21-mai-20'], datum.d) >= 0"}],
    "mark": {"type": "text", "baseline": "middle", "dy": -30, "fontSize": 9, "lineHeight": 12, "color": "#333333", "text": {"expr": "split(format(datum.valeur, 'd'), '')"}},
    "encoding": {"y": {"field": "valeur", "type": "quantitative", "scale": {"domain": [0, 700000], "nice": false}, "axis": null}}}
  ],
  "resolve": {"scale": {"y": "independent"}}}
 ], "spacing": 0, "resolve": {"scale": {"x": "independent", "y": "independent", "color": "independent"}, "legend": {"color": "independent"}}},
{"hconcat": [
 {"width": 43, "height": 10, "data": {"values": []}, "mark": "point"},
 {"title": {"text": "Italie", "offset": 2}, "width": 471, "height": 136, "data": {"name": "Italie"},
  "view": {"stroke": null, "fill": {"gradient": "linear", "x1": 0, "y1": 0, "x2": 0, "y2": 1, "stops": [{"offset": 0, "color": "#c4d89c"}, {"offset": 0.5, "color": "#bfcfe4"}, {"offset": 1, "color": "#dce5f3"}]}},
  "transform": [{"fold": ["cas", "décès"], "as": ["serie", "valeur"]}],
  "encoding": {"x": {"field": "d", "type": "nominal", "sort": null, "title": null, "scale": {"domain": ["09-mars-20","10-mars-20","11-mars-20","12-mars-20","13-mars-20","14-mars-20","15-mars-20","16-mars-20","17-mars-20","18-mars-20","19-mars-20","20-mars-20","21-mars-20","22-mars-20","23-mars-20","24-mars-20","25-mars-20","26-mars-20","27-mars-20","28-mars-20","29-mars-20","30-mars-20","31-mars-20","01-avr-20","02-avr-20","03-avr-20","04-avr-20","05-avr-20","06-avr-20","07-avr-20","08-avr-20","09-avr-20","10-avr-20","11-avr-20","12-avr-20","13-avr-20","14-avr-20","15-avr-20","16-avr-20","17-avr-20","18-avr-20","19-avr-20","20-avr-20","21-avr-20","22-avr-20","23-avr-20","24-avr-20","25-avr-20","26-avr-20","27-avr-20","28-avr-20","29-avr-20","30-avr-20","01-mai-20","02-mai-20","03-mai-20","04-mai-20","05-mai-20","06-mai-20","07-mai-20","08-mai-20","09-mai-20","10-mai-20","11-mai-20","12-mai-20","13-mai-20","14-mai-20","15-mai-20","16-mai-20","17-mai-20","18-mai-20","19-mai-20","20-mai-20","21-mai-20"], "paddingInner": 0.42, "paddingOuter": 0.2}}},
  "layer": [
   {"mark": {"type": "bar"}, "encoding": {
     "y": {"field": "valeur", "type": "quantitative", "stack": "zero", "title": null, "scale": {"domain": [0, 300000], "nice": false}, "axis": {"tickCount": 6, "grid": true}},
     "color": {"field": "serie", "type": "nominal", "title": null, "scale": {"domain": ["décès", "cas"], "range": ["#c0504d", "#4f81bd"]}, "legend": {"orient": "none", "legendX": 514, "legendY": 85}},
     "order": {"field": "serie", "sort": "ascending"}}},
   {"transform": [{"stack": "valeur", "groupby": ["d"], "sort": [{"field": "serie", "order": "ascending"}], "as": ["y0", "y1"]}, {"filter": "datum.serie === 'décès' && indexof(['31-mars-20','30-avr-20','21-mai-20'], datum.d) >= 0"}],
    "mark": {"type": "text", "dy": -5, "dx": -2, "fontSize": 9, "color": "#333333"},
    "encoding": {"y": {"field": "y1", "type": "quantitative", "scale": {"domain": [0, 300000], "nice": false}, "axis": null}, "text": {"field": "valeur", "type": "quantitative", "format": "d"}}},
   {"transform": [{"filter": "datum.serie === 'cas' && indexof(['01-mai-20','21-mai-20'], datum.d) >= 0"}],
    "mark": {"type": "text", "baseline": "middle", "dy": -30, "fontSize": 9, "lineHeight": 12, "color": "#333333", "text": {"expr": "split(format(datum.valeur, 'd'), '')"}},
    "encoding": {"y": {"field": "valeur", "type": "quantitative", "scale": {"domain": [0, 600000], "nice": false}, "axis": null}}}
  ],
  "resolve": {"scale": {"y": "independent"}}},
 {"title": {"text": "Mondial", "offset": 2}, "width": 500, "height": 141, "data": {"name": "Mondial"},
  "view": {"stroke": null, "fill": {"gradient": "linear", "x1": 0, "y1": 0, "x2": 0, "y2": 1, "stops": [{"offset": 0, "color": "#d0e2b4"}, {"offset": 0.5, "color": "#c3d2e6"}, {"offset": 1, "color": "#dce5f3"}]}},
  "transform": [{"fold": ["cas", "décès"], "as": ["serie", "valeur"]}],
  "encoding": {"x": {"field": "d", "type": "nominal", "sort": null, "title": null, "scale": {"domain": ["09-mars-20","10-mars-20","11-mars-20","12-mars-20","13-mars-20","14-mars-20","15-mars-20","16-mars-20","17-mars-20","18-mars-20","19-mars-20","20-mars-20","21-mars-20","22-mars-20","23-mars-20","24-mars-20","25-mars-20","26-mars-20","27-mars-20","28-mars-20","29-mars-20","30-mars-20","31-mars-20","01-avr-20","02-avr-20","03-avr-20","04-avr-20","05-avr-20","06-avr-20","07-avr-20","08-avr-20","09-avr-20","10-avr-20","11-avr-20","12-avr-20","13-avr-20","14-avr-20","15-avr-20","16-avr-20","17-avr-20","18-avr-20","19-avr-20","20-avr-20","21-avr-20","22-avr-20","23-avr-20","24-avr-20","25-avr-20","26-avr-20","27-avr-20","28-avr-20","29-avr-20","30-avr-20","01-mai-20","02-mai-20","03-mai-20","04-mai-20","05-mai-20","06-mai-20","07-mai-20","08-mai-20","09-mai-20","10-mai-20","11-mai-20","12-mai-20","13-mai-20","14-mai-20","15-mai-20","16-mai-20","17-mai-20","18-mai-20","19-mai-20","20-mai-20","21-mai-20"], "paddingInner": 0.42, "paddingOuter": 0.2}}},
  "layer": [
   {"mark": {"type": "bar"}, "encoding": {
     "y": {"field": "valeur", "type": "quantitative", "stack": "zero", "title": null, "scale": {"domain": [0, 6000000], "nice": false}, "axis": {"tickCount": 6, "grid": true, "minExtent": 69}},
     "color": {"field": "serie", "type": "nominal", "title": null, "scale": {"domain": ["décès", "cas"], "range": ["#c0504d", "#4f81bd"]}, "legend": {"orient": "none", "legendX": 538, "legendY": 85}},
     "order": {"field": "serie", "sort": "ascending"}}},
   {"transform": [{"stack": "valeur", "groupby": ["d"], "sort": [{"field": "serie", "order": "ascending"}], "as": ["y0", "y1"]}, {"filter": "datum.serie === 'décès' && indexof(['31-mars-20','30-avr-20','21-mai-20'], datum.d) >= 0"}],
    "mark": {"type": "text", "dy": -5, "dx": -2, "fontSize": 9, "color": "#333333"},
    "encoding": {"y": {"field": "y1", "type": "quantitative", "scale": {"domain": [0, 6000000], "nice": false}, "axis": null}, "text": {"field": "valeur", "type": "quantitative", "format": "d"}}},
   {"transform": [{"filter": "datum.serie === 'cas' && indexof(['01-mai-20','21-mai-20'], datum.d) >= 0"}],
    "mark": {"type": "text", "baseline": "middle", "dy": -36, "fontSize": 9, "lineHeight": 12, "color": "#333333", "text": {"expr": "split(format(datum.valeur, 'd'), '')"}},
    "encoding": {"y": {"field": "valeur", "type": "quantitative", "scale": {"domain": [0, 12000000], "nice": false}, "axis": null}}}
  ],
  "resolve": {"scale": {"y": "independent"}}}
 ], "spacing": 0, "resolve": {"scale": {"x": "independent", "y": "independent", "color": "independent"}, "legend": {"color": "independent"}}}
],
"spacing": 24,
"resolve": {"scale": {"x": "independent", "y": "independent", "color": "independent"}, "legend": {"color": "independent"}}
}
